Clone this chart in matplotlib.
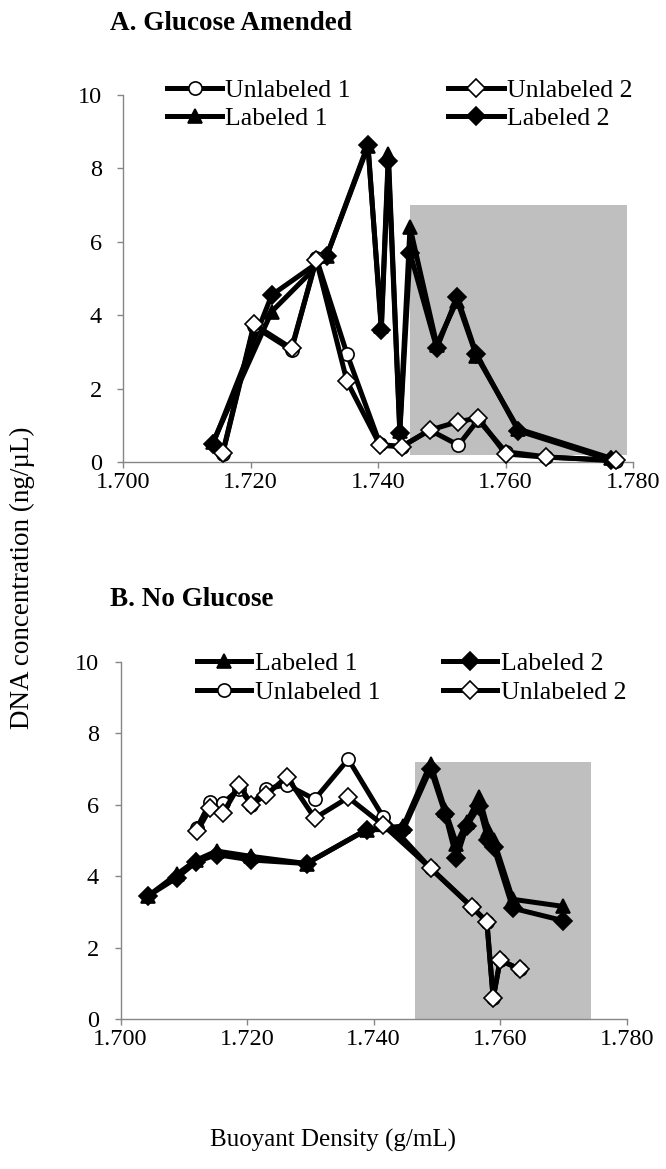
import matplotlib
matplotlib.use("Agg")
import matplotlib.pyplot as plt
from matplotlib.patches import Rectangle

plt.rcParams['font.family'] = ['Liberation Serif', 'DejaVu Serif']

# ---------------- Data: Panel A (Glucose Amended) ----------------
a_lab_x = [1.7141, 1.7233, 1.7319, 1.7384, 1.7405, 1.7416, 1.7434, 1.7450, 1.7492, 1.7524, 1.7554, 1.7620, 1.7766]
a_lab1_y = [0.55, 4.1, 5.6, 8.6, 3.7, 8.4, 0.85, 6.4, 3.2, 4.4, 2.9, 0.9, 0.1]
a_lab2_y = [0.5, 4.55, 5.6, 8.65, 3.6, 8.2, 0.8, 5.7, 3.1, 4.5, 2.95, 0.85, 0.05]

a_unl_x = [1.7156, 1.7205, 1.7264, 1.7303, 1.7351, 1.7403, 1.7437, 1.7481, 1.7526, 1.7557, 1.7600, 1.7664, 1.7774]
a_unl1_y = [0.22, 3.7, 3.05, 5.55, 2.95, 0.48, 0.42, 0.87, 0.46, 1.15, 0.28, 0.14, 0.03]
a_unl2_y = [0.25, 3.75, 3.1, 5.5, 2.2, 0.45, 0.42, 0.87, 1.1, 1.2, 0.22, 0.13, 0.05]

a_shade = (1.745, 1.779, 0.2, 7.0)   # x0, x1, y0, y1

# ---------------- Data: Panel B (No Glucose) ----------------
b_lab_x = [1.7044, 1.7089, 1.7120, 1.7152, 1.7207, 1.7294, 1.7389, 1.7447, 1.7490, 1.7513,
           1.7531, 1.7547, 1.7567, 1.7581, 1.7590, 1.7620, 1.7700]
b_lab1_y = [3.45, 4.05, 4.45, 4.7, 4.55, 4.35, 5.3, 5.4, 7.15, 5.85, 4.9, 5.5, 6.2, 5.3, 5.0, 3.35, 3.15]
b_lab2_y = [3.45, 3.95, 4.4, 4.6, 4.45, 4.35, 5.3, 5.3, 7.0, 5.75, 4.5, 5.4, 5.95, 5.0, 4.8, 3.1, 2.75]

b_unl_x = [1.7121, 1.7142, 1.7162, 1.7188, 1.7207, 1.7230, 1.7263, 1.7307, 1.7360, 1.7415,
           1.7490, 1.7555, 1.7579, 1.7589, 1.7600, 1.7631]
b_unl1_y = [5.35, 6.08, 6.04, 6.45, 6.0, 6.45, 6.55, 6.15, 7.27, 5.66, 4.22, 3.14, 2.72, 0.58, 1.65, 1.39]
b_unl2_y = [5.25, 5.9, 5.76, 6.55, 6.0, 6.27, 6.78, 5.62, 6.2, 5.43, 4.22, 3.14, 2.72, 0.58, 1.65, 1.39]

b_shade = (1.7465, 1.7743, 0.0, 7.2)

x_ticks = [1.700, 1.720, 1.740, 1.760, 1.780]
y_ticks = [0, 2, 4, 6, 8, 10]

W, H = 666, 1169
fig = plt.figure(figsize=(W / 100, H / 100), dpi=100)

FS_TICK = 17.5
FS_LEG = 18.5
FS_TITLE = 19.5
FS_YLAB = 19.5
FS_XLAB = 18
LW = 3.6
MS = 9.5
AX_COLOR = '#868686'


def fx(px):
    return px / W


def fy(py):
    return 1 - py / H


def style_axes(ax):
    ax.set_xlim(1.700, 1.780)
    ax.set_ylim(0, 10)
    ax.set_xticks(x_ticks)
    ax.set_xticklabels([f"{v:.3f}" for v in x_ticks])
    ax.set_yticks(y_ticks)
    for s in ['top', 'right']:
        ax.spines[s].set_visible(False)
    for s in ['left', 'bottom']:
        ax.spines[s].set_color(AX_COLOR)
        ax.spines[s].set_linewidth(1.0)
    ax.tick_params(axis='both', direction='out', length=4.5, width=1.0, color=AX_COLOR,
                   labelsize=FS_TICK, labelcolor='black')
    ax.tick_params(axis='x', pad=3)
    ax.tick_params(axis='y', pad=11)


def series(ax, x, y, marker, face, label, z):
    return ax.plot(x, y, color='black', lw=LW, marker=marker, markersize=MS,
                   markerfacecolor=face, markeredgecolor='black', markeredgewidth=1.2,
                   label=label, zorder=z, clip_on=False)[0]


# ---------------- Panel A ----------------
axA = fig.add_axes([fx(123.3), fy(462), fx(633 - 123.3), (462 - 95) / H])
style_axes(axA)
x0, x1, y0, y1 = a_shade
axA.add_patch(Rectangle((x0, y0), x1 - x0, y1 - y0, facecolor='#bfbfbf', edgecolor='none', zorder=0))
hL1 = series(axA, a_lab_x, a_lab1_y, '^', 'black', 'Labeled 1', 3)
hL2 = series(axA, a_lab_x, a_lab2_y, 'D', 'black', 'Labeled 2', 3.1)
hU1 = series(axA, a_unl_x, a_unl1_y, 'o', 'white', 'Unlabeled 1', 4)
hU2 = series(axA, a_unl_x, a_unl2_y, 'D', 'white', 'Unlabeled 2', 4.1)
legA = axA.legend([hU1, hL1, hU2, hL2], ['Unlabeled 1', 'Labeled 1', 'Unlabeled 2', 'Labeled 2'],
                  ncol=2, frameon=False, fontsize=FS_LEG, loc='upper left',
                  bbox_to_anchor=(fx(167), fy(79)), bbox_transform=fig.transFigure,
                  borderpad=0, borderaxespad=0, handlelength=2.15, handletextpad=0.12,
                  columnspacing=3.8, labelspacing=0.18)

fig.text(fx(110), fy(24), 'A. Glucose Amended', fontsize=FS_TITLE, fontweight='bold', ha='left', va='center')

# ---------------- Panel B ----------------
axB = fig.add_axes([fx(120.5), fy(1019), fx(626.7 - 120.5), (1019 - 661.7) / H])
style_axes(axB)
x0, x1, y0, y1 = b_shade
axB.add_patch(Rectangle((x0, y0), x1 - x0, y1 - y0, facecolor='#bfbfbf', edgecolor='none', zorder=0))
gL1 = series(axB, b_lab_x, b_lab1_y, '^', 'black', 'Labeled 1', 3)
gL2 = series(axB, b_lab_x, b_lab2_y, 'D', 'black', 'Labeled 2', 3.1)
gU1 = series(axB, b_unl_x, b_unl1_y, 'o', 'white', 'Unlabeled 1', 4)
gU2 = series(axB, b_unl_x, b_unl2_y, 'D', 'white', 'Unlabeled 2', 4.1)
legB = axB.legend([gL1, gU1, gL2, gU2], ['Labeled 1', 'Unlabeled 1', 'Labeled 2', 'Unlabeled 2'],
                  ncol=2, frameon=False, fontsize=FS_LEG, loc='upper left',
                  bbox_to_anchor=(fx(197), fy(652)), bbox_transform=fig.transFigure,
                  borderpad=0, borderaxespad=0, handlelength=2.1, handletextpad=0.15,
                  columnspacing=2.45, labelspacing=0.22)

fig.text(fx(110), fy(600), 'B. No Glucose', fontsize=FS_TITLE, fontweight='bold', ha='left', va='center')

# ---------------- Shared axis labels ----------------
fig.text(fx(22), fy(578), 'DNA concentration (ng/µL)', fontsize=FS_YLAB, rotation=90, ha='center', va='center')
fig.text(fx(333), fy(1140), 'Buoyant Density (g/mL)', fontsize=FS_XLAB, ha='center', va='center')

fig.savefig('out.png', dpi=100)
